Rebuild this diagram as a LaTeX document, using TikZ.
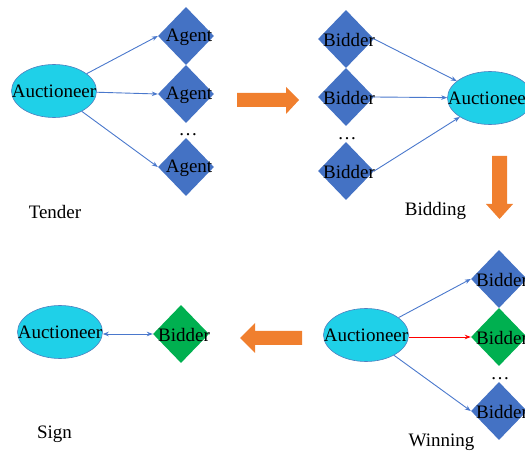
\documentclass[tikz,border=0pt]{standalone}
\usepackage{fontspec}
\setmainfont{Liberation Serif}
\usetikzlibrary{shapes.geometric,arrows.meta}
\definecolor{cyanfill}{HTML}{1FD0E8}
\definecolor{ellborder}{HTML}{4F7FBF}
\definecolor{dblue}{HTML}{4472C4}
\definecolor{dgreen}{HTML}{00B050}
\definecolor{borange}{HTML}{F07F2E}
\definecolor{lblue}{HTML}{4A78CC}
\tikzset{
  txt/.style={font=\fontsize{19}{21}\selectfont, inner sep=0pt},
  auct/.style={ellipse, fill=cyanfill, draw=ellborder, line width=0.6pt,
    minimum width=85pt, minimum height=53pt, inner sep=0pt,
    label={[txt]center:Auctioneer}},
  agentbox/.style={diamond, fill=dblue, minimum width=56pt, minimum height=58pt, inner sep=0pt},
  winbox/.style={diamond, fill=dgreen, minimum width=56pt, minimum height=58pt, inner sep=0pt},
  dl/.style={label={[txt,xshift=3pt,yshift=-1pt]center:#1}},
  conn/.style={draw=lblue, line width=0.9pt, -{Stealth[length=6pt,width=4.5pt]}},
  redconn/.style={draw=red, line width=0.9pt, -{Stealth[length=6pt,width=4.5pt]}},
  dconn/.style={draw=lblue, line width=0.9pt, {Stealth[length=6pt,width=4.5pt]}-{Stealth[length=6pt,width=4.5pt]}},
  blockarrow/.style={fill=borange, draw=none},
}
\begin{document}
\begin{tikzpicture}[x=1pt,y=-1pt]
\useasboundingbox (0,0) rectangle (525,454);

% Panel 1: Tender
\node[auct] (e1) at (54,91) {};
\node[agentbox,dl=Agent] (a1) at (186,36) {};
\node[agentbox,dl=Agent] (a2) at (186,94) {};
\node[agentbox,dl=Agent] (a3) at (186,167) {};
\node[txt,anchor=base] (dots1) at (188,136) {…};
\draw[conn] (e1) -- (a1.west);
\draw[conn] (e1) -- (a2.west);
\draw[conn] (e1) -- (a3.west);
\node[txt,anchor=base] (t1) at (55,219) {Tender};

% Panel 2: Bidding
\node[agentbox,dl=Bidder] (b1) at (346,39) {};
\node[agentbox,dl=Bidder] (b2) at (346,97) {};
\node[agentbox,dl=Bidder] (b3) at (346,171) {};
\node[txt,anchor=base] (dots2) at (347,140) {…};
\node[auct] (e2) at (490,98) {};
\draw[conn] (b1.east) -- (e2);
\draw[conn] (b2.east) -- (e2);
\draw[conn] (b3.east) -- (e2);
\node[txt,anchor=base] (t2) at (435.5,216) {Bidding};

% Panel 3: Winning
\node[auct] (e3) at (366,335) {};
\node[agentbox,dl=Bidder] (w1) at (499,279) {};
\node[winbox,dl=Bidder] (w2) at (499,337) {};
\node[agentbox,dl=Bidder] (w3) at (499,411) {};
\node[txt,anchor=base] (dots3) at (500,380) {…};
\draw[conn] (e3) -- (w1.west);
\draw[redconn] (e3.east |- w2.west) -- (w2.west);
\draw[conn] (e3) -- (w3.west);
\node[txt,anchor=base] (t3) at (441.5,446) {Winning};

% Panel 4: Sign
\node[auct] (e4) at (60,332) {};
\node[winbox,dl=Bidder] (s1) at (181,334) {};
\draw[dconn] (e4.east |- s1.west) -- (s1.west);
\node[txt,anchor=base] (t4) at (54.5,438) {Sign};

% Block arrows
\fill[blockarrow] (237,93) -- (286,93) -- (286,87) -- (299,100) -- (286,114) -- (286,107) -- (237,107) -- cycle;
\fill[blockarrow] (492,156) -- (507,156) -- (507,204) -- (513,204) -- (499.5,219) -- (486,204) -- (492,204) -- cycle;
\fill[blockarrow] (302,331) -- (255,331) -- (255,323) -- (240,338) -- (255,353) -- (255,345) -- (302,345) -- cycle;
\end{tikzpicture}
\end{document}
